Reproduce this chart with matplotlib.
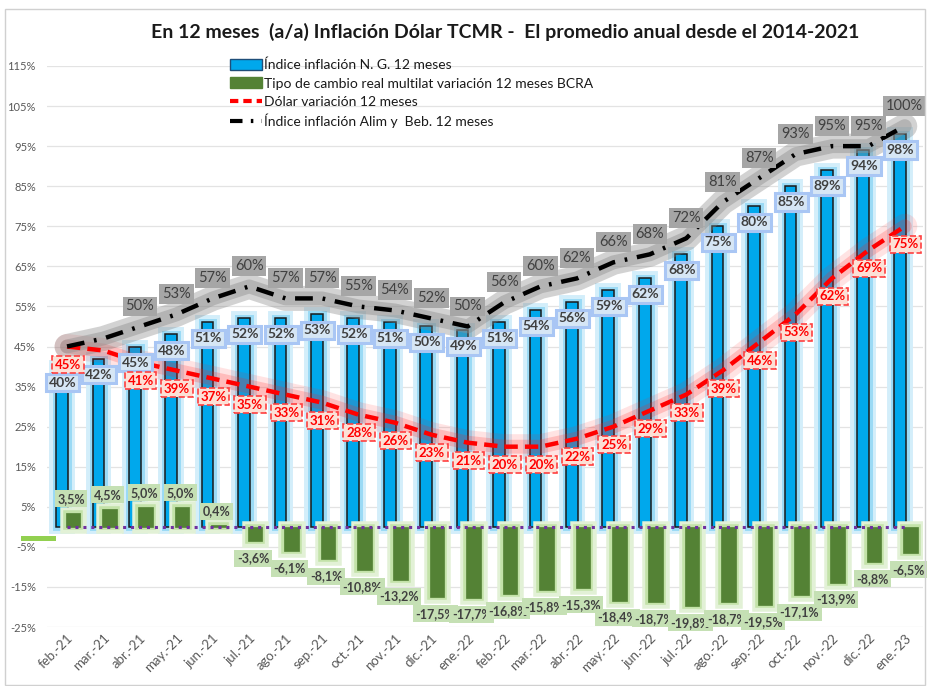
import matplotlib
matplotlib.use("Agg")
import matplotlib.pyplot as plt
import matplotlib.patheffects as pe
from matplotlib.patches import Patch, Rectangle
from matplotlib.lines import Line2D
import numpy as np

plt.rcParams['font.family'] = ['Lato', 'DejaVu Sans']

months = ["feb.-21", "mar.-21", "abr.-21", "may.-21", "jun.-21", "jul.-21", "ago.-21",
          "sep.-21", "oct.-21", "nov.-21", "dic.-21", "ene.-22", "feb.-22", "mar.-22",
          "abr.-22", "may.-22", "jun.-22", "jul.-22", "ago.-22", "sep.-22", "oct.-22",
          "nov.-22", "dic.-22", "ene.-23"]
inflacion_ng = [40, 42, 45, 48, 51, 52, 52, 53, 52, 51, 50, 49, 51, 54, 56, 59, 62, 68,
                75, 80, 85, 89, 94, 98]
tcmr = [3.5, 4.5, 5.0, 5.0, 0.4, -3.6, -6.1, -8.1, -10.8, -13.2, -17.5, -17.7, -16.8,
        -15.8, -15.3, -18.4, -18.7, -19.8, -18.7, -19.5, -17.1, -13.9, -8.8, -6.5]
dolar = [45, 44, 41, 39, 37, 35, 33, 31, 28, 26, 23, 21, 20, 20, 22, 25, 29, 33, 39, 46,
         53, 62, 69, 75]
dolar_label = [True, False] + [True] * 22
alim = [45, 47, 50, 53, 57, 60, 57, 57, 55, 54, 52, 50, 56, 60, 62, 66, 68, 72, 81, 87,
        93, 95, 95, 100]
alim_label = [False, False] + [True] * 22
zero_line = [0] * 24

title = "En 12 meses  (a/a) Inflación Dólar TCMR -  El promedio anual desde el 2014-2021"
legend_labels = ["Índice inflación N. G. 12 meses",
                 "Tipo de cambio real multilat variación 12 meses BCRA",
                 "Dólar variación 12 meses",
                 "Índice inflación Alim y  Beb. 12 meses"]

fig = plt.figure(figsize=(9.32, 6.86), dpi=100)
ax = fig.add_axes([47 / 932, 1 - 627 / 686, (923 - 47) / 932, (627 - 66) / 686])

x = np.arange(len(months))
blue_c = "#00A8EC"
green_c = "#548235"

# grid
ax.set_ylim(-25, 115)
ax.set_xlim(-0.55, 23.5)
yt = np.arange(-25, 116, 10)
ax.set_yticks(yt)
ax.set_yticklabels([f"{v}%" for v in yt], fontsize=8, color="#595959")
ax.yaxis.grid(True, color="#E3E3E3", lw=0.9)
ax.set_axisbelow(True)
for s in ax.spines.values():
    s.set_visible(False)
ax.tick_params(axis='both', length=0)
ax.tick_params(axis='y', pad=8)
ax.set_xticks(x)
ax.set_xticklabels(months, rotation=45, ha="right", rotation_mode="anchor",
                   fontsize=9.5, color="#595959")

# bars
bw_b = 0.32
bw_g = 0.40
off_b = -0.14
off_g = 0.16
bars_b = ax.bar(x + off_b, inflacion_ng, width=bw_b, color=blue_c, edgecolor="#1a1a1a",
                lw=1.1, zorder=3)
for b in bars_b:
    b.set_path_effects([pe.Stroke(linewidth=10, foreground="#D3EEFA"),
                        pe.Stroke(linewidth=5, foreground="#9ADAF5"), pe.Normal()])
bars_g = ax.bar(x + off_g, tcmr, width=bw_g, color=green_c, edgecolor=green_c, lw=0.5,
                zorder=4)
for b in bars_g:
    b.set_path_effects([pe.Stroke(linewidth=9, foreground="#E2F1D6"),
                        pe.Stroke(linewidth=4, foreground="#C3E2A8"), pe.Normal()])

# zero dotted line
ax.plot(x, zero_line, color="#7030A0", lw=2.2, linestyle=(0, (1, 1.6)), zorder=6)

# red line with glow
ax.plot(x, dolar, color="#FF2020", lw=18, alpha=0.12, solid_capstyle="round", zorder=5)
ax.plot(x, dolar, color="#FF2020", lw=10, alpha=0.20, solid_capstyle="round", zorder=5)
ax.plot(x, dolar, color="#FF0000", lw=3.2, linestyle=(0, (3, 1.6)), zorder=7)

# black line with glow
ax.plot(x, alim, color="#808080", lw=18, alpha=0.35, solid_capstyle="round", zorder=5)
ax.plot(x, alim, color="#909090", lw=10, alpha=0.45, solid_capstyle="round", zorder=5)
ax.plot(x, alim, color="#000000", lw=3.2, linestyle=(0, (4, 2.2, 0.6, 2.2)), zorder=7)

# labels
def pct(v, dec=False):
    if dec:
        return f"{v:.1f}%".replace(".", ",")
    return f"{v:.0f}%"

for i, v in enumerate(inflacion_ng):
    ax.text(x[i] + off_b + 0.02, v - 4, pct(v), ha="center", va="center", fontsize=10,
            color="#404040", fontweight="bold", zorder=9,
            bbox=dict(boxstyle="square,pad=0.2", fc="#D6E6F5", ec="#A9C6F4", lw=2.2))

for i, v in enumerate(tcmr):
    yy = v + 3.5 if v >= 0 else v - 4.2
    ax.text(x[i] + off_g - 0.05, yy, pct(v, True), ha="center", va="center", fontsize=9,
            color="#404040", fontweight="bold", zorder=9,
            bbox=dict(boxstyle="square,pad=0.2", fc="#C5E0B4", ec="none"))

for i, v in enumerate(dolar):
    if dolar_label[i]:
        ax.text(x[i] + 0.02, v - 4.5, pct(v), ha="center", va="center", fontsize=9.5,
                color="#FF0000", fontweight="bold", zorder=10,
                bbox=dict(boxstyle="square,pad=0.2", fc="#FCE0D6", ec="#FF4040", lw=1.2,
                          ls="--"))

for i, v in enumerate(alim):
    if alim_label[i]:
        ax.text(x[i], v + 5, pct(v), ha="center", va="center", fontsize=10.5,
                color="#404040", zorder=10,
                bbox=dict(boxstyle="square,pad=0.2", fc="#A6A6A6", ec="none"))

# legend
handles = [Patch(facecolor=blue_c, edgecolor="#1F4E79", lw=1),
           Patch(facecolor=green_c, edgecolor=green_c),
           Line2D([], [], color="#FF0000", lw=3, linestyle=(0, (2, 1.2))),
           Line2D([], [], color="#000000", lw=3, linestyle=(0, (3, 2, 0.6, 2)))]
leg = fig.legend(handles, legend_labels, loc="upper left",
                 bbox_to_anchor=(224 / 932, 1 - 53 / 686), frameon=False, fontsize=10,
                 handlelength=2.3, handleheight=0.9, handletextpad=0.15,
                 labelspacing=0.42, borderaxespad=0)
for t in leg.get_texts():
    t.set_color("#1a1a1a")

fig.text(505 / 932, 1 - 32 / 686, title, ha="center", va="center", fontsize=14,
         fontweight="bold", color="#1a1a1a")

# outer frame and stray marker
fig.patches.append(Rectangle((5 / 932, 0.002), 920 / 932, 1 - 10 / 686,
                             transform=fig.transFigure, fill=False, ec="#D0D0D0", lw=1))
fig.patches.append(Rectangle((21 / 932, 1 - 541 / 686), 35 / 932, 5 / 686,
                             transform=fig.transFigure, fc="#92D050", ec="none"))

fig.savefig("out.png", dpi=100, facecolor="white")
